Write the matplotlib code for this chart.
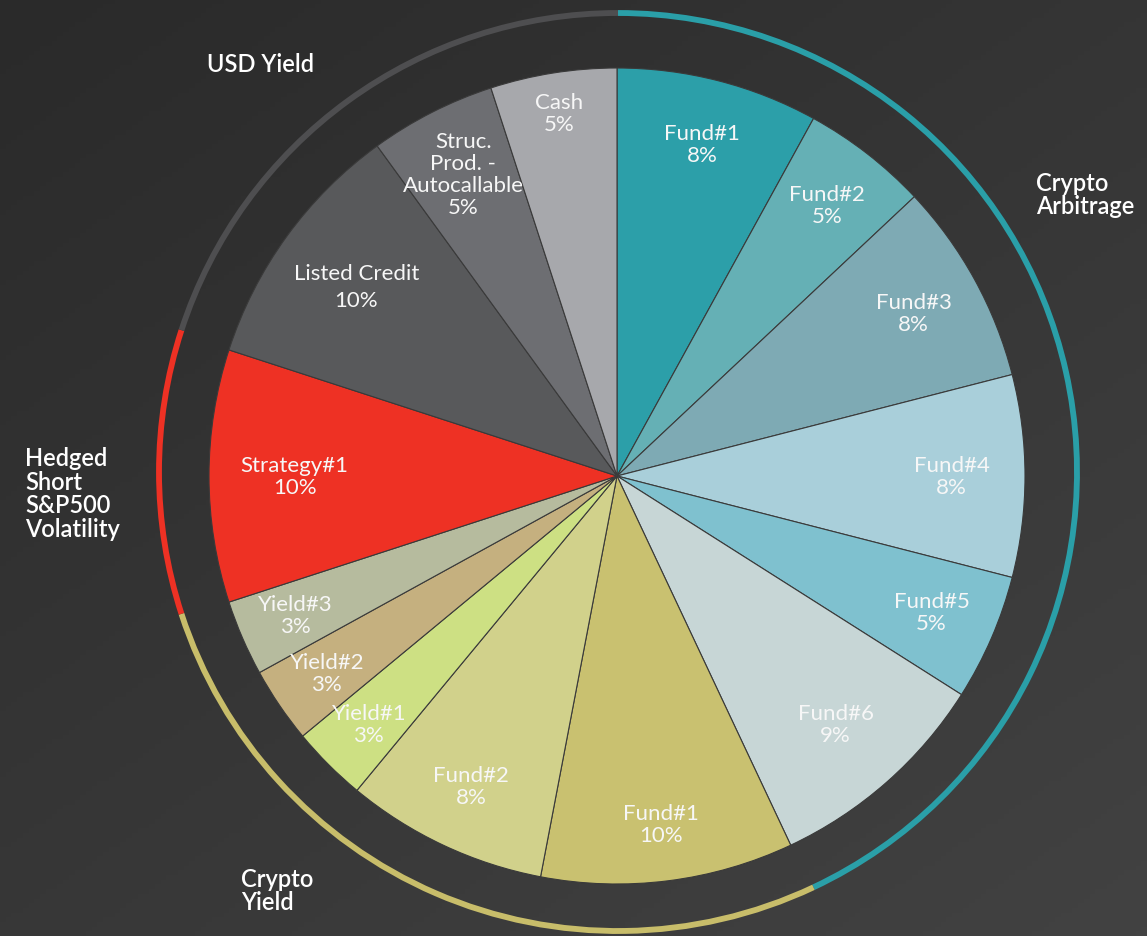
import matplotlib.pyplot as plt
import numpy as np
from matplotlib.patches import Arc

# slices, clockwise from 12 o'clock
names = ["Fund#1", "Fund#2", "Fund#3", "Fund#4", "Fund#5", "Fund#6",
         "Fund#1", "Fund#2", "Yield#1", "Yield#2", "Yield#3",
         "Strategy#1", "Listed Credit", "Struc.\nProd. -\nAutocallable", "Cash"]
shares = [8, 5, 8, 8, 5, 9, 10, 8, 3, 3, 3, 10, 10, 5, 5]
colors = ["#2c9fa9", "#65b0b5", "#7eaab4", "#a9cfda", "#7fc1cf", "#c7d6d6",
          "#c9c170", "#d1d18b", "#cde083", "#c5b07f", "#b6bb9e",
          "#ee3124", "#58595b", "#6d6e72", "#a7a8ac"]

# outer ring groups
groups = ["Crypto\nArbitrage", "Crypto\nYield", "Hedged\nShort\nS&P500\nVolatility", "USD Yield"]
group_sizes = [6, 5, 1, 3]   # number of slices in each group
group_colors = ["#2a9fa8", "#c8bd6a", "#ee3124", "#4e4e50"]

W, H = 1147, 937
fig = plt.figure(figsize=(W / 100, H / 100), dpi=100)

# background gradient
bg = fig.add_axes([0, 0, 1, 1])
gx, gy = np.meshgrid(np.linspace(0, 1, 200), np.linspace(0, 1, 200))
grad = 0.45 * gx + 0.55 * gy
bg.imshow(grad, cmap=plt.matplotlib.colors.LinearSegmentedColormap.from_list(
    "bg", ["#2a2a2a", "#424242"]), aspect="auto", extent=[0, 1, 1, 0])
bg.axis("off")

ax = fig.add_axes([0, 0, 1, 1])
ax.patch.set_alpha(0)
cx, cy, R = 617, H - 477, 408

wedges, _ = ax.pie(shares, colors=colors, startangle=90, counterclock=False,
                   center=(cx, cy), radius=R, frame=True,
                   wedgeprops=dict(edgecolor="#3a3a3a", linewidth=0.8))

label_r = [0.84, 0.84, 0.83, 0.82, 0.84, 0.81, 0.86, 0.84, 0.86, 0.86, 0.86,
           0.79, 0.79, 0.83, 0.90]
for w, name, s, lr in zip(wedges, names, shares, label_r):
    mid = np.deg2rad((w.theta1 + w.theta2) / 2)
    x = cx + lr * R * np.cos(mid)
    y = cy + lr * R * np.sin(mid)
    ls = 1.4 if name == "Listed Credit" else 1.12
    ax.text(x, y, f"{name}\n{s}%", ha="center", va="center", color="#f7f7f7",
            fontsize=16, family="Lato", linespacing=ls)

# ring arcs around groups
rcx, rcy, rr = 618, H - 473, 459
total = sum(shares)
start = 0
i = 0
for g, n, col in zip(groups, group_sizes, group_colors):
    part = sum(shares[i:i + n])
    a0 = 90 - 360 * (start + part) / total
    a1 = 90 - 360 * start / total
    ax.add_patch(Arc((rcx, rcy), 2 * rr, 2 * rr, theta1=a0, theta2=a1,
                     color=col, linewidth=4.2))
    start += part
    i += n

group_pos = [(1036, 195), (241, 891), (25, 494), (207, 65)]
for g, (x, y) in zip(groups, group_pos):
    ax.text(x, H - y, g, ha="left", va="center", color="#ffffff",
            fontsize=17, family="Lato", fontweight="semibold", linespacing=1.04)

ax.set_xlim(0, W)
ax.set_ylim(0, H)
ax.set_aspect("equal")
ax.axis("off")

fig.savefig("out.png", dpi=100)
